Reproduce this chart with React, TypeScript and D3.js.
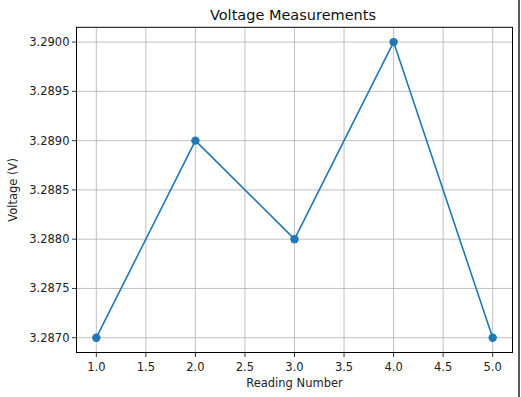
import React from "react";
import * as d3 from "d3";

const readings = [1, 2, 3, 4, 5];
const voltages = [3.287, 3.289, 3.288, 3.29, 3.287];
const xTicks = [1.0, 1.5, 2.0, 2.5, 3.0, 3.5, 4.0, 4.5, 5.0];
const yTicks = [3.287, 3.2875, 3.288, 3.2885, 3.289, 3.2895, 3.29];

const W = 521, H = 397;
const L = 76.5, R = 512.5, T = 27.3, B = 352.5;
const color = "#1f77b4";
const font = "DejaVu Sans, sans-serif";

export default function App() {
  const x = d3.scaleLinear().domain([0.8, 5.2]).range([L, R]);
  const y = d3.scaleLinear().domain([3.28685, 3.29015]).range([B, T]);
  const line = d3.line<number>().x((_, i) => x(readings[i])).y((d) => y(d));
  return (
    <svg width={W} height={H} style={{ position: "absolute", left: 0, top: 0, background: "#fff" }}>
      <rect width={W} height={H} fill="#fff" />
      {xTicks.map((t) => (
        <g key={"x" + t}>
          <line x1={x(t)} x2={x(t)} y1={T} y2={B} stroke="#b0b0b0" strokeWidth={0.8} />
          <line x1={x(t)} x2={x(t)} y1={B} y2={B + 4.5} stroke="#000" strokeWidth={0.8} />
          <text x={x(t)} y={B + 18} textAnchor="middle" fontFamily={font} fontSize={11.5} fill="#222">
            {t.toFixed(1)}
          </text>
        </g>
      ))}
      {yTicks.map((t) => (
        <g key={"y" + t}>
          <line x1={L} x2={R} y1={y(t)} y2={y(t)} stroke="#b0b0b0" strokeWidth={0.8} />
          <line x1={L - 4.5} x2={L} y1={y(t)} y2={y(t)} stroke="#000" strokeWidth={0.8} />
          <text x={L - 7} y={y(t) + 4} textAnchor="end" fontFamily={font} fontSize={11.5} fill="#222">
            {t.toFixed(4)}
          </text>
        </g>
      ))}
      <path d={line(voltages) || ""} fill="none" stroke={color} strokeWidth={1.6} />
      {voltages.map((v, i) => (
        <circle key={i} cx={x(readings[i])} cy={y(v)} r={4.2} fill={color} />
      ))}
      <rect x={L} y={T} width={R - L} height={B - T} fill="none" stroke="#000" strokeWidth={1} />
      <text x={293} y={20} textAnchor="middle" fontFamily={font} fontSize={14.5} fill="#111">
        Voltage Measurements
      </text>
      <text x={(L + R) / 2} y={387} textAnchor="middle" fontFamily={font} fontSize={11.5} fill="#222">
        Reading Number
      </text>
      <text
        transform={`translate(16.5, ${(T + B) / 2}) rotate(-90)`}
        textAnchor="middle"
        fontFamily={font}
        fontSize={11.5}
        fill="#222"
      >
        Voltage (V)
      </text>
      <line x1={519} x2={519} y1={0} y2={H} stroke="#222" strokeWidth={1.5} />
    </svg>
  );
}
